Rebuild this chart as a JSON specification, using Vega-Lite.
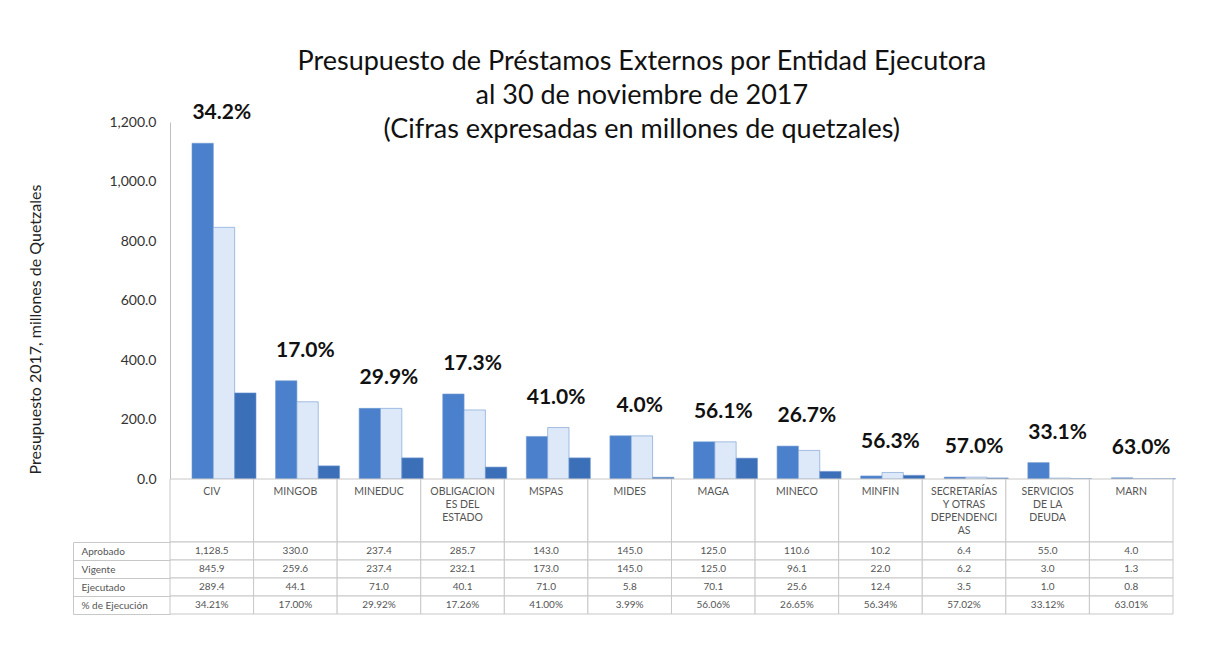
{
  "$schema": "https://vega.github.io/schema/vega-lite/v6.json",
  "background": "white",
  "padding": {"left": 27, "top": 48, "right": 10, "bottom": 5},
  "config": {"font": "Lato", "view": {"stroke": null}},
  "title": {
    "text": ["Presupuesto de Préstamos Externos por Entidad Ejecutora", "al 30 de noviembre de 2017", "(Cifras expresadas en millones de quetzales)"],
    "fontSize": 27, "fontWeight": "normal", "lineHeight": 34, "anchor": "middle", "offset": -42, "dx": 40, "color": "#111", "font": "Lato"
  },
  "datasets": {
    "d": [
      {"entidad": "CIV", "Aprobado": 1128.5, "Vigente": 845.9, "Ejecutado": 289.4, "pct": 0.3421},
      {"entidad": "MINGOB", "Aprobado": 330.0, "Vigente": 259.6, "Ejecutado": 44.1, "pct": 0.1700},
      {"entidad": "MINEDUC", "Aprobado": 237.4, "Vigente": 237.4, "Ejecutado": 71.0, "pct": 0.2992},
      {"entidad": "OBLIGACION\nES DEL\nESTADO", "Aprobado": 285.7, "Vigente": 232.1, "Ejecutado": 40.1, "pct": 0.1726},
      {"entidad": "MSPAS", "Aprobado": 143.0, "Vigente": 173.0, "Ejecutado": 71.0, "pct": 0.4100},
      {"entidad": "MIDES", "Aprobado": 145.0, "Vigente": 145.0, "Ejecutado": 5.8, "pct": 0.0399},
      {"entidad": "MAGA", "Aprobado": 125.0, "Vigente": 125.0, "Ejecutado": 70.1, "pct": 0.5606},
      {"entidad": "MINECO", "Aprobado": 110.6, "Vigente": 96.1, "Ejecutado": 25.6, "pct": 0.2665},
      {"entidad": "MINFIN", "Aprobado": 10.2, "Vigente": 22.0, "Ejecutado": 12.4, "pct": 0.5634},
      {"entidad": "SECRETARÍAS\nY OTRAS\nDEPENDENCI\nAS", "Aprobado": 6.4, "Vigente": 6.2, "Ejecutado": 3.5, "pct": 0.5702},
      {"entidad": "SERVICIOS\nDE LA\nDEUDA", "Aprobado": 55.0, "Vigente": 3.0, "Ejecutado": 1.0, "pct": 0.3312},
      {"entidad": "MARN", "Aprobado": 4.0, "Vigente": 1.3, "Ejecutado": 0.8, "pct": 0.6301}
    ]
  },
  "bounds": "flush",
  "spacing": 0,
  "vconcat": [
    {
      "width": 1003,
      "height": 357,
      "data": {"name": "d"},
      "transform": [{"fold": ["Aprobado", "Vigente", "Ejecutado"], "as": ["serie", "valor"]}],
      "layer": [
        {
          "mark": {"type": "bar", "stroke": "#6f98d0", "strokeWidth": 0.6},
          "encoding": {
            "x": {"field": "entidad", "type": "nominal", "sort": null, "scale": {"paddingInner": 0, "paddingOuter": 0}, "axis": null},
            "xOffset": {"field": "serie", "type": "nominal", "sort": ["Aprobado", "Vigente", "Ejecutado"], "scale": {"range": [22, 86], "paddingInner": 0, "paddingOuter": 0}},
            "y": {
              "field": "valor", "type": "quantitative", "scale": {"domain": [0, 1200]},
              "axis": {
                "title": "Presupuesto 2017, millones de Quetzales", "values": [0, 200, 400, 600, 800, 1000, 1200],
                "format": ",.1f", "grid": false, "ticks": false, "domainColor": "#bfbfbf",
                "labelFontSize": 14, "labelColor": "#333", "labelPadding": 14,
                "titleFontSize": 16, "titleFontWeight": "normal", "titleColor": "#222", "titlePadding": 65, "titleY": 207
              }
            },
            "color": {"field": "serie", "type": "nominal", "scale": {"domain": ["Aprobado", "Vigente", "Ejecutado"], "range": ["#4a80cc", "#dde9f8", "#3b6fb8"]}, "legend": null}
          }
        },
        {
          "mark": {"type": "text", "fontWeight": "bold", "fontSize": 21, "baseline": "middle", "dy": -30, "dx": 10, "color": "#111"},
          "encoding": {
            "x": {"field": "entidad", "type": "nominal", "sort": null},
            "y": {"aggregate": "max", "field": "valor", "type": "quantitative"},
            "text": {"aggregate": "max", "field": "pct", "type": "quantitative", "format": ".1%"}
          }
        }
      ]
    },
    {
      "width": 1003,
      "height": 63,
      "data": {"name": "d"},
      "encoding": {
        "x": {"field": "entidad", "type": "nominal", "sort": null, "scale": {"paddingInner": 0, "paddingOuter": 0}, "axis": null}
      },
      "layer": [
        {"mark": {"type": "rect", "fill": "white", "stroke": "#c8c8c8", "strokeWidth": 1}},
        {
          "mark": {"type": "text", "lineBreak": "\n", "baseline": "top", "dy": -24, "fontSize": 10.5, "color": "#555", "lineHeight": 13},
          "encoding": {"text": {"field": "entidad"}}
        }
      ]
    },
    {
      "width": 1003,
      "height": 72,
      "data": {"name": "d"},
      "transform": [{"fold": ["Aprobado", "Vigente", "Ejecutado", "pct"], "as": ["fila", "v"]}],
      "encoding": {
        "x": {"field": "entidad", "type": "nominal", "sort": null, "scale": {"paddingInner": 0, "paddingOuter": 0}, "axis": null},
        "y": {
          "field": "fila", "type": "nominal", "sort": ["Aprobado", "Vigente", "Ejecutado", "pct"],
          "scale": {"paddingInner": 0, "paddingOuter": 0},
          "axis": {
            "title": null, "offset": 97, "domain": true, "domainColor": "#c8c8c8",
            "ticks": true, "tickBand": "extent", "tickSize": -97, "tickColor": "#c8c8c8",
            "labelAlign": "left", "labelPadding": 89, "labelFontSize": 10, "labelColor": "#555",
            "labelExpr": "datum.value == 'pct' ? '% de Ejecución' : datum.value"
          }
        }
      },
      "layer": [
        {"mark": {"type": "rect", "fill": "white", "stroke": "#c8c8c8", "strokeWidth": 1}},
        {
          "transform": [{"filter": "datum.fila != 'pct'"}],
          "mark": {"type": "text", "fontSize": 10, "color": "#555"},
          "encoding": {"text": {"field": "v", "type": "quantitative", "format": ",.1f"}}
        },
        {
          "transform": [{"filter": "datum.fila == 'pct'"}],
          "mark": {"type": "text", "fontSize": 10, "color": "#555"},
          "encoding": {"text": {"field": "v", "type": "quantitative", "format": ".2%"}}
        }
      ]
    }
  ]
}
